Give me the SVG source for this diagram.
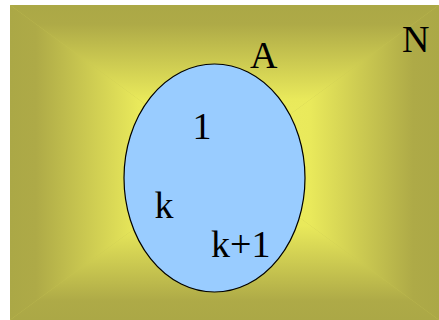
<svg xmlns="http://www.w3.org/2000/svg" width="439" height="320" viewBox="0 0 439 320">
  <style>
    .lbl { font-family: "Liberation Serif", "Times New Roman", serif; font-size: 38px; fill: #000; }
  </style>
  <defs>
    <linearGradient id="gTop" gradientUnits="userSpaceOnUse" x1="0" y1="5" x2="0" y2="162.5">
      <stop offset="0" stop-color="#aba846"/>
      <stop offset="0.12" stop-color="#aeaa47"/>
      <stop offset="0.6" stop-color="#e9e95b"/>
      <stop offset="1" stop-color="#f0f062"/>
    </linearGradient>
    <linearGradient id="gBot" gradientUnits="userSpaceOnUse" x1="0" y1="320" x2="0" y2="162.5">
      <stop offset="0" stop-color="#aba846"/>
      <stop offset="0.12" stop-color="#aeaa47"/>
      <stop offset="0.6" stop-color="#e9e95b"/>
      <stop offset="1" stop-color="#f0f062"/>
    </linearGradient>
    <linearGradient id="gLeft" gradientUnits="userSpaceOnUse" x1="10" y1="0" x2="224.5" y2="0">
      <stop offset="0" stop-color="#aba846"/>
      <stop offset="0.12" stop-color="#aeaa47"/>
      <stop offset="0.6" stop-color="#e9e95b"/>
      <stop offset="1" stop-color="#f0f062"/>
    </linearGradient>
    <linearGradient id="gRight" gradientUnits="userSpaceOnUse" x1="439" y1="0" x2="224.5" y2="0">
      <stop offset="0" stop-color="#aba846"/>
      <stop offset="0.12" stop-color="#aeaa47"/>
      <stop offset="0.6" stop-color="#e9e95b"/>
      <stop offset="1" stop-color="#f0f062"/>
    </linearGradient>
  </defs>
  <g id="universe-N">
    <rect x="10" y="5" width="429" height="315" fill="#c8c552"/>
    <polygon points="10,5 439,5 224.5,162.5" fill="url(#gTop)"/>
    <polygon points="10,320 439,320 224.5,162.5" fill="url(#gBot)"/>
    <polygon points="10,5 10,320 224.5,162.5" fill="url(#gLeft)"/>
    <polygon points="439,5 439,320 224.5,162.5" fill="url(#gRight)"/>
    <text class="lbl" x="402" y="52">N</text>
  </g>
  <g id="set-A">
    <ellipse cx="214.5" cy="178" rx="90.5" ry="114" fill="#99ccff" stroke="#000" stroke-width="1.2"/>
    <text class="lbl" x="250" y="68">A</text>
  </g>
  <g id="elem-1"><text class="lbl" x="192.5" y="139">1</text></g>
  <g id="elem-k"><text class="lbl" x="154.5" y="218">k</text></g>
  <g id="elem-k1"><text class="lbl" x="211" y="257">k+1</text></g>
</svg>
